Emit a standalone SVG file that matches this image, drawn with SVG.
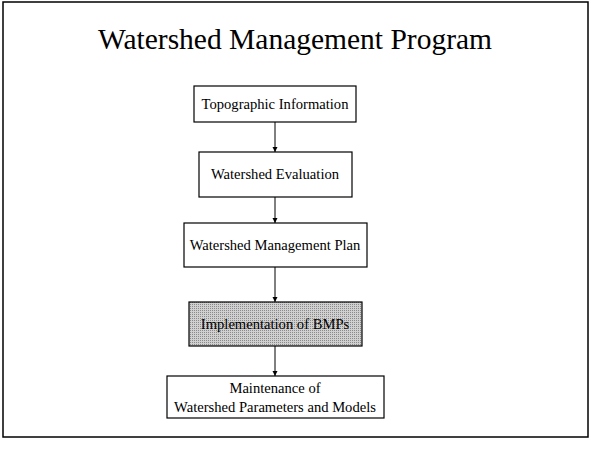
<svg xmlns="http://www.w3.org/2000/svg" width="591" height="450" viewBox="0 0 591 450">
<style>
.box{fill:#fff;stroke:#000;stroke-width:1.2}
.t{font-family:"Liberation Serif","Times New Roman",serif;font-size:14.6px;fill:#000;text-anchor:middle}
.title{font-family:"Liberation Serif","Times New Roman",serif;font-size:29.5px;fill:#000;text-anchor:middle}
.c{stroke:#000;stroke-width:1;fill:none;marker-end:url(#ah)}
</style>
<defs>
<marker id="ah" markerWidth="6" markerHeight="6" refX="5" refY="3" orient="auto" markerUnits="userSpaceOnUse">
<path d="M0,0.5 L5,3 L0,5.5 Z" fill="#000"/>
</marker>
<pattern id="dots" width="2" height="2" patternUnits="userSpaceOnUse">
<rect width="2" height="2" fill="#d0d0d0"/>
<rect width="1" height="1" fill="#8a8a8a"/>
</pattern>
</defs>
<rect x="0" y="0" width="591" height="450" fill="#fff"/>
<rect x="3" y="2" width="585" height="435" fill="none" stroke="#000" stroke-width="1.5"/>
<text class="title" x="295" y="49">Watershed Management Program</text>
<g id="connectors">
<line class="c" x1="275" y1="122" x2="275" y2="152"/>
<line class="c" x1="275" y1="197" x2="275" y2="223"/>
<line class="c" x1="275" y1="267" x2="275" y2="302"/>
<line class="c" x1="275" y1="346" x2="275" y2="376"/>
</g>
<g id="n1"><rect class="box" x="194" y="86" width="162" height="36"/><text class="t" x="275" y="109">Topographic Information</text></g>
<g id="n2"><rect class="box" x="199" y="152" width="153" height="45"/><text class="t" x="275" y="179">Watershed Evaluation</text></g>
<g id="n3"><rect class="box" x="184" y="223" width="183" height="44"/><text class="t" x="275" y="250">Watershed Management Plan</text></g>
<g id="n4"><rect x="189" y="302" width="173" height="44" fill="url(#dots)" stroke="#000" stroke-width="1.2"/><text class="t" x="275" y="329">Implementation of BMPs</text></g>
<g id="n5"><rect class="box" x="167" y="376" width="217" height="42"/><text class="t" x="275" y="393">Maintenance of</text><text class="t" x="275" y="412">Watershed Parameters and Models</text></g>
</svg>
